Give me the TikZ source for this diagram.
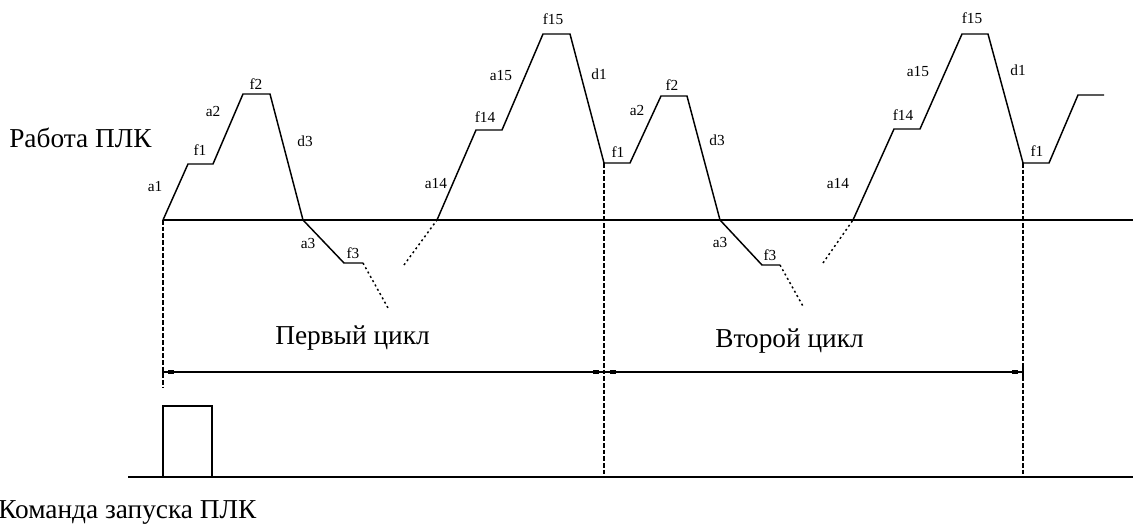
\documentclass[tikz,border=0pt]{standalone}
\usepackage{fontspec}
\setmainfont{Liberation Serif}
\begin{document}
\begin{tikzpicture}[x=0.75pt,y=-0.75pt,
  wave/.style={line width=1.1pt,line join=miter},
  dotwave/.style={line width=1.1pt,dash pattern=on 1.5pt off 2.2pt},
  vdash/.style={line width=0.9pt,dash pattern=on 3.5pt off 1.5pt},
  axis/.style={line width=1.1pt},
  lbl/.style={font=\fontsize{11.5}{12}\selectfont,inner sep=0pt},
  big/.style={font=\fontsize{20.5}{22}\selectfont,inner sep=0pt,anchor=base west},
  tickbox/.style={fill=black,draw=none,minimum width=4.5pt,minimum height=3.5pt,inner sep=0pt}]
\useasboundingbox (0,0) rectangle (1133,525);
% waveform points
\coordinate (s0) at (163,220);
\coordinate (p1) at (188,164);
\coordinate (p2) at (213,164);
\coordinate (p3) at (243,94);
\coordinate (p4) at (270,94);
\coordinate (p5) at (303,220);
\coordinate (p6) at (344,263);
\coordinate (p7) at (363,263);
\coordinate (p8) at (388,308);
\coordinate (q0) at (404,265);
\coordinate (q1) at (437,220);
\coordinate (q2) at (476,130);
\coordinate (q3) at (502,130);
\coordinate (q4) at (543,34);
\coordinate (q5) at (570,34);
\coordinate (q6) at (604,163);
\coordinate (q7) at (630,163);
\coordinate (q8) at (661,96);
\coordinate (q9) at (687,96);
\coordinate (q10) at (720,220);
\coordinate (q11) at (762,265);
\coordinate (q12) at (780,265);
\coordinate (q13) at (804,308);
\coordinate (r0) at (823,263);
\coordinate (r1) at (853,220);
\coordinate (r2) at (894,129);
\coordinate (r3) at (920,129);
\coordinate (r4) at (962,34);
\coordinate (r5) at (988,34);
\coordinate (r6) at (1023,163);
\coordinate (r7) at (1049,163);
\coordinate (r8) at (1078,95);
\coordinate (r9) at (1104,95);
\coordinate (axR) at (1133,220);
% axis
\draw[axis] (s0) -- (axR);
% waves
\draw[wave] (s0)--(p1)--(p2)--(p3)--(p4)--(p5)--(p6)--(p7);
\draw[dotwave] (p7)--(p8);
\draw[dotwave] (q0)--(q1);
\draw[wave] (q1)--(q2)--(q3)--(q4)--(q5)--(q6)--(q7)--(q8)--(q9)--(q10)--(q11)--(q12);
\draw[dotwave] (q12)--(q13);
\draw[dotwave] (r0)--(r1);
\draw[wave] (r1)--(r2)--(r3)--(r4)--(r5)--(r6)--(r7)--(r8)--(r9);
% vertical dashed
\coordinate (v1b) at (163,387);
\coordinate (v2b) at (604,477);
\coordinate (v3b) at (1023,477);
\draw[vdash] (s0) -- (v1b);
\draw[vdash] (q6) -- (v2b);
\draw[vdash] (r6) -- (v3b);
% dimension lines
\coordinate (d1a) at (163,372);
\coordinate (d1b) at (604,372);
\coordinate (d2b) at (1023,372);
\draw[axis] (d1a) -- (d1b);
\draw[axis] (d1b) -- (d2b);
\draw[line width=0.9pt] (163,367) -- (163,377);
\draw[line width=0.9pt] (1023,367) -- (1023,377);
\node[tickbox] (k1) at (171,372) {};
\node[tickbox] (k2) at (596,372) {};
\node[tickbox] (k3) at (613,372) {};
\node[tickbox] (k4) at (1015,372) {};
% bottom line and pulse
\coordinate (bL) at (128,477);
\coordinate (bR) at (1133,477);
\draw[axis] (bL) -- (bR);
\coordinate (u0) at (163,477);
\coordinate (u1) at (163,406);
\coordinate (u2) at (212,406);
\coordinate (u3) at (212,477);
\draw[axis] (u0)--(u1)--(u2)--(u3);
% labels first cycle
\node[lbl] (la1) at (155,187) {a1};
\node[lbl] (lf1) at (200,150) {f1};
\node[lbl] (la2) at (213,111) {a2};
\node[lbl] (lf2) at (256,84) {f2};
\node[lbl] (ld3) at (305,141) {d3};
\node[lbl] (la3) at (308,243) {a3};
\node[lbl] (lf3) at (353,253) {f3};
\node[lbl] (la14) at (436,184) {a14};
\node[lbl] (lf14) at (485,117) {f14};
\node[lbl] (la15) at (501,76) {a15};
\node[lbl] (lf15) at (553,19) {f15};
\node[lbl] (ld1) at (599,74) {d1};
% labels second cycle
\node[lbl] (mf1) at (618,152) {f1};
\node[lbl] (ma2) at (637,110) {a2};
\node[lbl] (mf2) at (672,85) {f2};
\node[lbl] (md3) at (717,140) {d3};
\node[lbl] (ma3) at (720,242) {a3};
\node[lbl] (mf3) at (770,255) {f3};
\node[lbl] (ma14) at (838,184) {a14};
\node[lbl] (mf14) at (903,115) {f14};
\node[lbl] (ma15) at (918,72) {a15};
\node[lbl] (mf15) at (972,18) {f15};
\node[lbl] (md1) at (1018,70) {d1};
\node[lbl] (mf1b) at (1037,151) {f1};
% big texts
\node[big] (t1) at (9,147) {Работа ПЛК};
\node[big] (t2) at (275,344) {Первый цикл};
\node[big] (t3) at (715,347) {Второй цикл};
\node[big] (t4) at (-2,518) {Команда запуска ПЛК};
\end{tikzpicture}
\end{document}
